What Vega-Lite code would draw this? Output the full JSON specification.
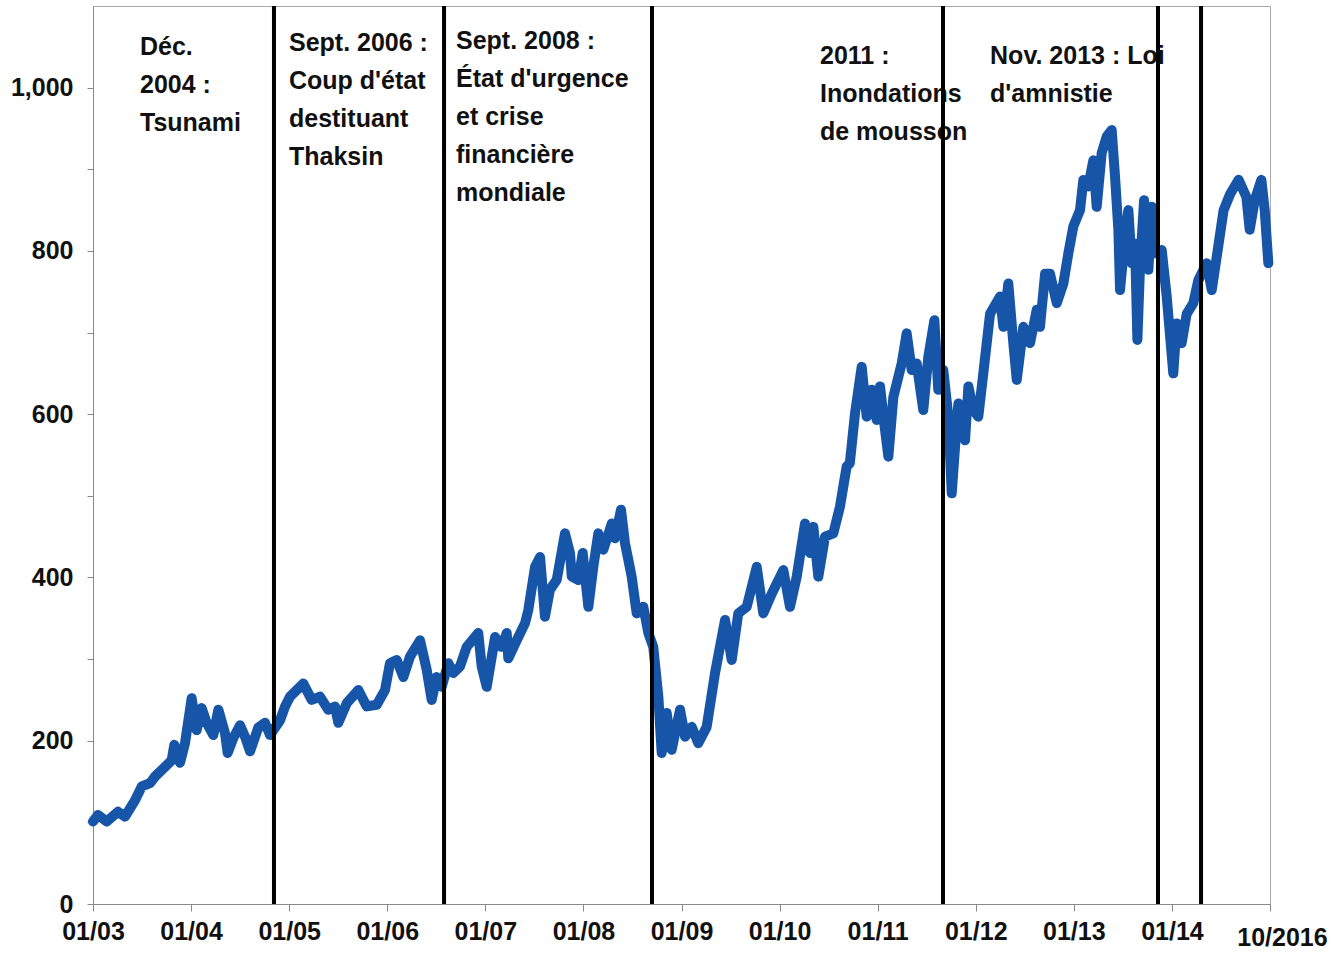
{
  "$schema": "https://vega.github.io/schema/vega-lite/v6.json",
  "width": 1177,
  "height": 898,
  "autosize": {"type": "none"},
  "padding": {"left": 93, "top": 6, "right": 68, "bottom": 50},
  "background": "white",
  "config": {
    "view": {"stroke": "#a8a8a8", "strokeWidth": 1},
    "font": "Liberation Sans, Arial, sans-serif"
  },
  "datasets": {
    "series": [
      {"t": 2003.000, "v": 101}, {"t": 2003.051, "v": 109}, {"t": 2003.140, "v": 101}, {"t": 2003.255, "v": 113},
      {"t": 2003.326, "v": 107}, {"t": 2003.428, "v": 127}, {"t": 2003.497, "v": 144}, {"t": 2003.581, "v": 148},
      {"t": 2003.632, "v": 156}, {"t": 2003.734, "v": 168}, {"t": 2003.802, "v": 176}, {"t": 2003.829, "v": 195},
      {"t": 2003.887, "v": 173}, {"t": 2003.938, "v": 197}, {"t": 2004.006, "v": 252}, {"t": 2004.057, "v": 213},
      {"t": 2004.108, "v": 240}, {"t": 2004.159, "v": 222}, {"t": 2004.227, "v": 207}, {"t": 2004.278, "v": 238},
      {"t": 2004.346, "v": 209}, {"t": 2004.373, "v": 185}, {"t": 2004.430, "v": 203}, {"t": 2004.499, "v": 219},
      {"t": 2004.550, "v": 205}, {"t": 2004.601, "v": 187}, {"t": 2004.685, "v": 216}, {"t": 2004.754, "v": 222},
      {"t": 2004.805, "v": 207}, {"t": 2004.856, "v": 216}, {"t": 2004.907, "v": 225}, {"t": 2004.958, "v": 242},
      {"t": 2005.009, "v": 254}, {"t": 2005.144, "v": 270}, {"t": 2005.230, "v": 250}, {"t": 2005.314, "v": 254},
      {"t": 2005.399, "v": 238}, {"t": 2005.467, "v": 242}, {"t": 2005.501, "v": 222}, {"t": 2005.587, "v": 246},
      {"t": 2005.705, "v": 262}, {"t": 2005.791, "v": 242}, {"t": 2005.893, "v": 244}, {"t": 2005.977, "v": 262},
      {"t": 2006.028, "v": 295}, {"t": 2006.096, "v": 299}, {"t": 2006.164, "v": 278}, {"t": 2006.232, "v": 303},
      {"t": 2006.334, "v": 323}, {"t": 2006.402, "v": 287}, {"t": 2006.453, "v": 250}, {"t": 2006.504, "v": 278},
      {"t": 2006.555, "v": 266}, {"t": 2006.623, "v": 295}, {"t": 2006.674, "v": 283}, {"t": 2006.742, "v": 291},
      {"t": 2006.810, "v": 315}, {"t": 2006.928, "v": 332}, {"t": 2006.963, "v": 291}, {"t": 2007.014, "v": 266},
      {"t": 2007.099, "v": 327}, {"t": 2007.167, "v": 315}, {"t": 2007.218, "v": 332}, {"t": 2007.234, "v": 301},
      {"t": 2007.320, "v": 323}, {"t": 2007.405, "v": 344}, {"t": 2007.438, "v": 360}, {"t": 2007.507, "v": 413},
      {"t": 2007.558, "v": 425}, {"t": 2007.608, "v": 352}, {"t": 2007.659, "v": 385}, {"t": 2007.728, "v": 397},
      {"t": 2007.812, "v": 454}, {"t": 2007.863, "v": 430}, {"t": 2007.881, "v": 401}, {"t": 2007.948, "v": 397},
      {"t": 2007.993, "v": 430}, {"t": 2008.050, "v": 364}, {"t": 2008.101, "v": 413}, {"t": 2008.152, "v": 454},
      {"t": 2008.203, "v": 434}, {"t": 2008.289, "v": 466}, {"t": 2008.322, "v": 448}, {"t": 2008.383, "v": 483},
      {"t": 2008.424, "v": 442}, {"t": 2008.492, "v": 401}, {"t": 2008.543, "v": 356}, {"t": 2008.611, "v": 364},
      {"t": 2008.662, "v": 332}, {"t": 2008.712, "v": 315}, {"t": 2008.764, "v": 254}, {"t": 2008.798, "v": 185},
      {"t": 2008.849, "v": 234}, {"t": 2008.900, "v": 189}, {"t": 2008.985, "v": 238}, {"t": 2009.036, "v": 205},
      {"t": 2009.104, "v": 217}, {"t": 2009.171, "v": 197}, {"t": 2009.257, "v": 217}, {"t": 2009.342, "v": 283},
      {"t": 2009.444, "v": 348}, {"t": 2009.512, "v": 299}, {"t": 2009.579, "v": 356}, {"t": 2009.665, "v": 364},
      {"t": 2009.767, "v": 413}, {"t": 2009.834, "v": 356}, {"t": 2009.920, "v": 380}, {"t": 2010.038, "v": 409},
      {"t": 2010.106, "v": 364}, {"t": 2010.175, "v": 401}, {"t": 2010.259, "v": 466}, {"t": 2010.310, "v": 430},
      {"t": 2010.344, "v": 462}, {"t": 2010.395, "v": 401}, {"t": 2010.463, "v": 450}, {"t": 2010.548, "v": 454},
      {"t": 2010.616, "v": 487}, {"t": 2010.684, "v": 536}, {"t": 2010.716, "v": 540}, {"t": 2010.769, "v": 601},
      {"t": 2010.837, "v": 658}, {"t": 2010.888, "v": 597}, {"t": 2010.939, "v": 630}, {"t": 2010.990, "v": 593},
      {"t": 2011.024, "v": 634}, {"t": 2011.075, "v": 581}, {"t": 2011.109, "v": 548}, {"t": 2011.160, "v": 621},
      {"t": 2011.245, "v": 662}, {"t": 2011.296, "v": 699}, {"t": 2011.347, "v": 654}, {"t": 2011.398, "v": 662},
      {"t": 2011.465, "v": 605}, {"t": 2011.516, "v": 670}, {"t": 2011.578, "v": 715}, {"t": 2011.618, "v": 630},
      {"t": 2011.669, "v": 654}, {"t": 2011.721, "v": 597}, {"t": 2011.755, "v": 503}, {"t": 2011.789, "v": 560},
      {"t": 2011.823, "v": 613}, {"t": 2011.891, "v": 568}, {"t": 2011.925, "v": 634}, {"t": 2011.976, "v": 605},
      {"t": 2012.026, "v": 597}, {"t": 2012.077, "v": 650}, {"t": 2012.146, "v": 723}, {"t": 2012.248, "v": 744},
      {"t": 2012.281, "v": 707}, {"t": 2012.332, "v": 760}, {"t": 2012.383, "v": 687}, {"t": 2012.418, "v": 642},
      {"t": 2012.485, "v": 707}, {"t": 2012.553, "v": 687}, {"t": 2012.622, "v": 728}, {"t": 2012.655, "v": 707},
      {"t": 2012.707, "v": 772}, {"t": 2012.757, "v": 772}, {"t": 2012.826, "v": 736}, {"t": 2012.893, "v": 760},
      {"t": 2012.944, "v": 797}, {"t": 2012.995, "v": 830}, {"t": 2013.063, "v": 850}, {"t": 2013.097, "v": 887},
      {"t": 2013.147, "v": 879}, {"t": 2013.199, "v": 911}, {"t": 2013.233, "v": 854}, {"t": 2013.284, "v": 920},
      {"t": 2013.335, "v": 940}, {"t": 2013.386, "v": 948}, {"t": 2013.420, "v": 891}, {"t": 2013.454, "v": 826},
      {"t": 2013.471, "v": 752}, {"t": 2013.522, "v": 817}, {"t": 2013.556, "v": 850}, {"t": 2013.590, "v": 785},
      {"t": 2013.624, "v": 809}, {"t": 2013.648, "v": 691}, {"t": 2013.675, "v": 781}, {"t": 2013.716, "v": 862},
      {"t": 2013.760, "v": 777}, {"t": 2013.794, "v": 854}, {"t": 2013.828, "v": 797}, {"t": 2013.896, "v": 801},
      {"t": 2013.947, "v": 744}, {"t": 2014.014, "v": 650}, {"t": 2014.048, "v": 711}, {"t": 2014.099, "v": 687},
      {"t": 2014.151, "v": 723}, {"t": 2014.218, "v": 736}, {"t": 2014.269, "v": 764}, {"t": 2014.355, "v": 785},
      {"t": 2014.406, "v": 752}, {"t": 2014.457, "v": 793}, {"t": 2014.527, "v": 850}, {"t": 2014.595, "v": 870},
      {"t": 2014.680, "v": 887}, {"t": 2014.759, "v": 866}, {"t": 2014.793, "v": 826}, {"t": 2014.844, "v": 862},
      {"t": 2014.912, "v": 887}, {"t": 2014.946, "v": 850}, {"t": 2014.983, "v": 785}
    ],
    "events": [
      {"t": 2004.845}, {"t": 2006.579}, {"t": 2008.699}, {"t": 2011.666}, {"t": 2013.858}, {"t": 2014.297}
    ],
    "notes": [
      {"t": 2003.479, "v": 1064, "label": "Déc.\n2004 :\nTsunami"},
      {"t": 2004.998, "v": 1069, "label": "Sept. 2006 :\nCoup d'état\ndestituant\nThaksin"},
      {"t": 2006.701, "v": 1072, "label": "Sept. 2008 :\nÉtat d'urgence\net crise\nfinancière\nmondiale"},
      {"t": 2010.412, "v": 1054, "label": "2011 :\nInondations\nde mousson"},
      {"t": 2012.146, "v": 1053, "label": "Nov. 2013 : Loi\nd'amnistie"}
    ]
  },
  "layer": [
    {
      "data": {"name": "series"},
      "mark": {"type": "line", "color": "#1655A8", "strokeWidth": 10, "strokeJoin": "round", "strokeCap": "round"},
      "encoding": {
        "x": {
          "field": "t", "type": "quantitative",
          "scale": {"domain": [2003, 2015], "nice": false, "zero": false},
          "axis": {
            "values": [2003, 2004, 2005, 2006, 2007, 2008, 2009, 2010, 2011, 2012, 2013, 2014, 2015],
            "labelExpr": "datum.value == 2015 ? '10/2016' : '01/' + slice(toString(datum.value), 2)",
            "title": null, "grid": false, "tickSize": 7,
            "labelPadding": {"condition": {"test": "datum.value == 2015", "value": 14}, "value": 8},
            "labelOffset": {"condition": {"test": "datum.value == 2015", "value": 12}, "value": 0},
            "labelFontSize": 25, "labelFontWeight": "bold", "labelColor": "#111111",
            "labelFont": "Liberation Sans, Arial, sans-serif",
            "domainColor": "#888888", "tickColor": "#888888", "labelFlush": false, "labelOverlap": false
          }
        },
        "y": {
          "field": "v", "type": "quantitative",
          "scale": {"domain": [0, 1100], "nice": false},
          "axis": {
            "values": [0, 100, 200, 300, 400, 500, 600, 700, 800, 900, 1000],
            "labelExpr": "datum.value % 200 == 0 ? format(datum.value, ',') : ''",
            "title": null, "grid": false, "tickSize": 6, "labelPadding": 14,
            "labelFontSize": 25, "labelFontWeight": "bold", "labelColor": "#111111",
            "labelFont": "Liberation Sans, Arial, sans-serif",
            "domainColor": "#888888", "tickColor": "#888888", "labelOverlap": false
          }
        }
      }
    },
    {
      "data": {"name": "notes"},
      "mark": {"type": "text", "align": "left", "baseline": "top", "fontSize": 25, "fontWeight": "bold", "lineBreak": "\n", "lineHeight": 38, "color": "#111111", "font": "Liberation Sans, Arial, sans-serif"},
      "encoding": {
        "x": {"field": "t", "type": "quantitative"},
        "y": {"field": "v", "type": "quantitative"},
        "text": {"field": "label"}
      }
    },
    {
      "data": {"name": "events"},
      "mark": {"type": "rule", "color": "#000000", "strokeWidth": 4},
      "encoding": {
        "x": {"field": "t", "type": "quantitative"}
      }
    }
  ]
}
